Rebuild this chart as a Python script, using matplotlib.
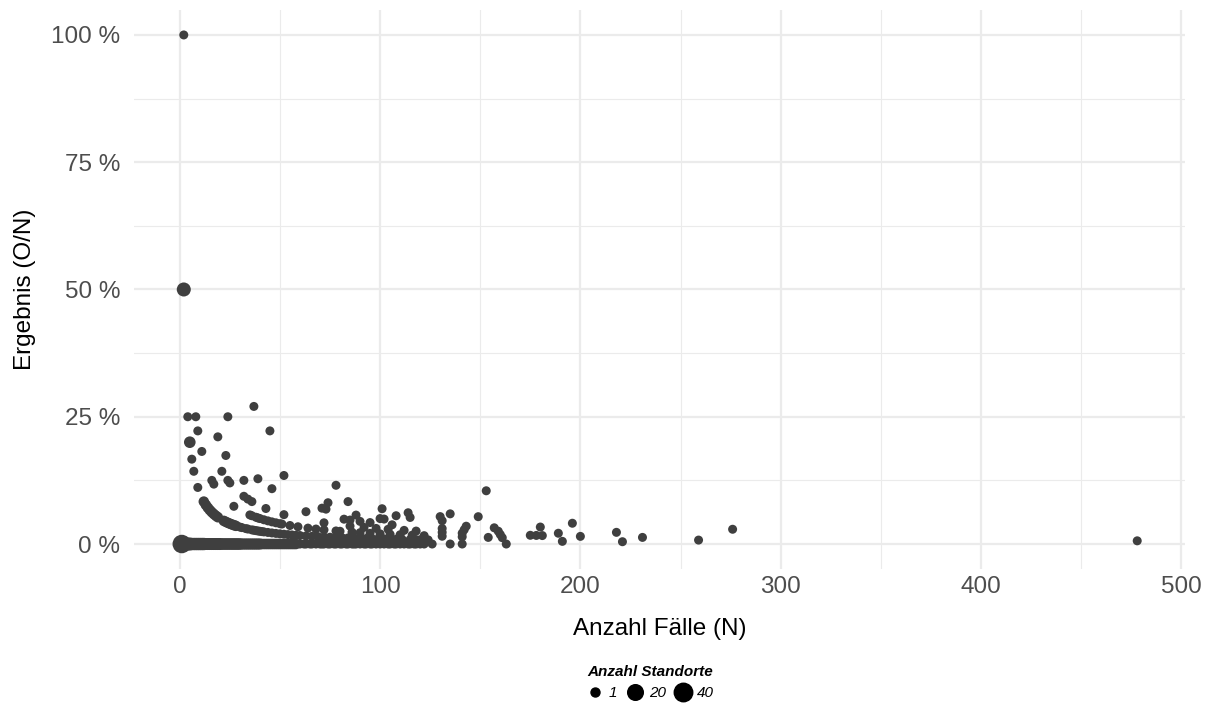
import numpy as np
import matplotlib
matplotlib.use('Agg')
import matplotlib.pyplot as plt
from matplotlib.lines import Line2D

plt.rcParams['font.family'] = ['Liberation Sans', 'DejaVu Sans']

# Anzahl Fälle (N) je Standort, gruppiert nach Anzahl Ereignisse (O)
faelle_o0 = [1, 2, 3, 4, 5, 6, 7, 8, 9, 10, 11, 12, 13, 14, 15, 16, 17, 18, 19, 20,
             21, 22, 23, 24, 25, 26, 27, 28, 29, 30, 31, 32, 33, 34, 35, 36, 37, 38, 39, 40,
             41, 42, 43, 44, 45, 46, 47, 48, 49, 50, 51, 52, 53, 54, 55, 56, 57, 58, 60, 62,
             63, 65, 66, 68, 70, 71, 72, 74, 75, 77, 78, 80, 81, 83, 84, 86, 87, 88, 90, 92,
             93, 95, 96, 98, 100, 102, 104, 105, 107, 108, 110, 112, 114, 115, 117, 118, 120, 122, 126, 135,
             141, 163]
standorte_o0 = [40, 8, 8, 8, 8, 6, 6, 6, 6, 6, 6, 6, 5, 5, 5, 5, 5, 5, 5, 5,
                4, 4, 4, 4, 4, 4, 4, 4, 4, 4, 3, 3, 3, 3, 3, 3, 3, 3, 3, 3,
                2, 2, 2, 2, 2, 2, 2, 2, 2, 2, 2, 2, 2, 2, 2, 2, 2, 2, 1, 1,
                1, 1, 1, 1, 1, 1, 1, 1, 1, 1, 1, 1, 1, 1, 1, 1, 1, 1, 1, 1,
                1, 1, 1, 1, 1, 1, 1, 1, 1, 1, 1, 1, 1, 1, 1, 1, 1, 1, 1, 1,
                1, 1]

faelle_o1 = [2, 4, 5, 6, 7, 9, 12, 13, 14, 15, 16, 17, 18, 19, 22, 23, 24, 25, 26, 27,
             28, 30, 31, 33, 34, 36, 37, 38, 39, 40, 41, 42, 44, 46, 48, 50, 52, 54, 56, 58,
             60, 63, 66, 69, 72, 75, 78, 81, 84, 87, 90, 93, 96, 99, 102, 105, 108, 111, 115, 118,
             120, 124, 191, 221]
standorte_o1 = [12, 1, 4, 1, 1, 1, 2, 2, 2, 2, 2, 2, 2, 2, 2, 2, 2, 2, 2, 2,
                2, 1, 1, 1, 1, 1, 1, 1, 1, 1, 1, 1, 1, 1, 1, 1, 1, 1, 1, 1,
                1, 1, 1, 1, 1, 1, 1, 1, 1, 1, 1, 1, 1, 1, 1, 1, 1, 1, 1, 1,
                1, 1, 1, 1]

faelle_o2 = [2, 8, 9, 11, 16, 17, 27, 35, 36, 38, 39, 40, 42, 44, 46, 48, 50, 51, 55, 59,
             64, 68, 72, 78, 80, 86, 90, 95, 100, 105, 110, 116, 122, 131, 141, 154, 161, 259]
faelle_o3 = [21, 24, 25, 32, 34, 36, 43, 52, 72, 85, 92, 98, 104, 112, 118, 131, 141, 160, 175, 178,
             181, 200, 231, 478]
faelle_o4 = [19, 23, 32, 63, 82, 85, 90, 95, 106, 131, 142, 159, 189]
faelle_o5 = [39, 46, 71, 73, 88, 100, 102, 143, 157, 218]
faelle_o6 = [24, 74, 108, 115, 131, 180]
faelle_o7 = [52, 84, 101, 114, 130]
faelle_o8 = [135, 149, 196, 276]
faelle_o9 = [78]
faelle_o10 = [37, 45]
faelle_o16 = [153]

legend_werte = [1, 20, 40]

# zusammenfuehren
faelle, ereignisse, standorte = [], [], []
for o, nl, cl in [(0, faelle_o0, standorte_o0), (1, faelle_o1, standorte_o1)]:
    faelle += nl
    ereignisse += [o] * len(nl)
    standorte += cl
for o, nl in [(2, faelle_o2), (3, faelle_o3), (4, faelle_o4), (5, faelle_o5), (6, faelle_o6),
              (7, faelle_o7), (8, faelle_o8), (9, faelle_o9), (10, faelle_o10), (16, faelle_o16)]:
    faelle += nl
    ereignisse += [o] * len(nl)
    standorte += [1] * len(nl)

faelle = np.array(faelle, dtype=float)
ergebnis = np.array(ereignisse) / faelle * 100
standorte = np.array(standorte, dtype=float)


def groesse(c):
    # flaechenproportional wie scale_size
    d_px = 9.0 + 9.5 * np.sqrt((np.asarray(c, dtype=float) - 1) / 39)
    return (d_px * 0.72) ** 2


punkt_farbe = '#3F3F3F'
grid_farbe = '#EBEBEB'
text_grau = '#4D4D4D'

fig = plt.figure(figsize=(12.16, 7.09), dpi=100)
ax = fig.add_axes([0.1102, 0.1968, 0.8643, 0.7898])

ax.scatter(faelle, ergebnis, s=groesse(standorte), color=punkt_farbe,
           edgecolors='none', zorder=3)

ax.set_xlim(-22.85, 501.85)
ax.set_ylim(-5, 105)
ax.set_xticks([0, 100, 200, 300, 400, 500])
ax.set_xticks([50, 150, 250, 350, 450], minor=True)
ax.set_yticks([0, 25, 50, 75, 100])
ax.set_yticks([12.5, 37.5, 62.5, 87.5], minor=True)
ax.set_yticklabels(['0 %', '25 %', '50 %', '75 %', '100 %'])
ax.grid(which='major', color=grid_farbe, linewidth=1.6, zorder=0)
ax.grid(which='minor', color=grid_farbe, linewidth=0.8, zorder=0)
ax.set_axisbelow(True)
for sp in ax.spines.values():
    sp.set_visible(False)
ax.tick_params(which='both', length=0, labelsize=17.5, labelcolor=text_grau)
ax.tick_params(axis='x', pad=5)
ax.tick_params(axis='y', pad=10)

ax.set_xlabel('Anzahl Fälle (N)', fontsize=17.5, color='black', labelpad=14)
ax.set_ylabel('Ergebnis (O/N)', fontsize=17.5, color='black', labelpad=11)

handles = [Line2D([], [], linestyle='none', marker='o', color='black',
                  markersize=np.sqrt(groesse(v))) for v in legend_werte]
leg = fig.legend(handles, [str(v) for v in legend_werte], loc='lower center',
                 bbox_to_anchor=(0.535, -0.003), ncol=3, frameon=False,
                 title='Anzahl Standorte', handletextpad=0.35, columnspacing=0.6,
                 handlelength=1.1, borderpad=0.2,
                 prop={'style': 'italic', 'size': 11},
                 title_fontproperties={'weight': 'bold', 'style': 'italic', 'size': 11})

fig.savefig('out.png', dpi=100, facecolor='white')
